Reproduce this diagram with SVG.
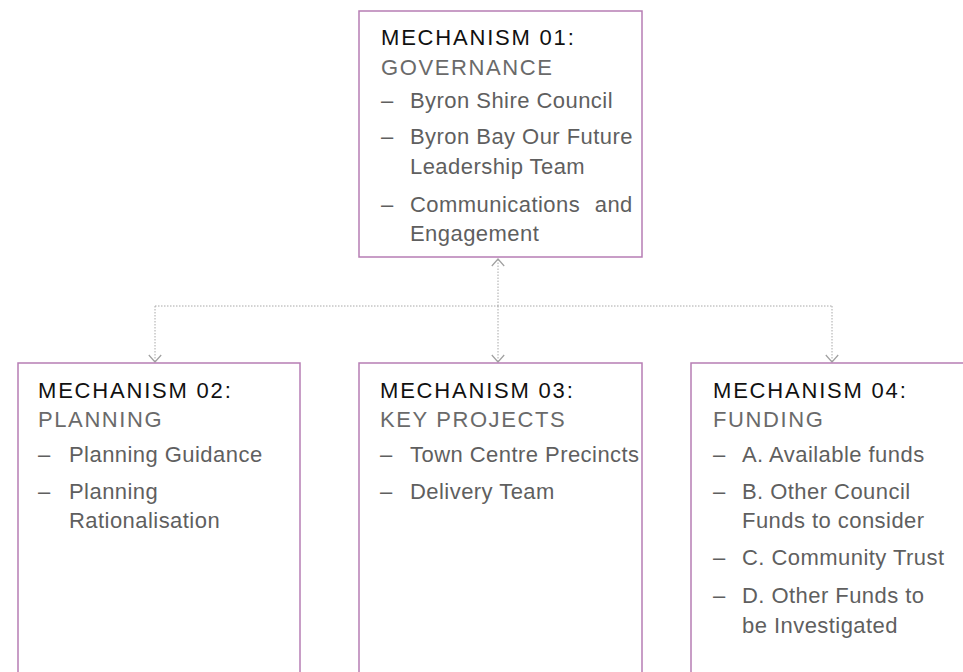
<svg xmlns="http://www.w3.org/2000/svg" width="963" height="672" viewBox="0 0 963 672">
<defs>
<marker id="chev" viewBox="0 0 9 14" refX="8" refY="7" markerWidth="9" markerHeight="14" markerUnits="userSpaceOnUse" orient="auto">
<path d="M1,0.8 L8,7 L1,13.2" fill="none" stroke="#a0a0a0" stroke-width="1.2"/>
</marker>
<style>
.box{fill:#fff;stroke:#b67db4;stroke-width:1.5}
.t{font-family:"Liberation Sans",Arial,sans-serif;font-size:22px;fill:#111;letter-spacing:1.8px}
.s{font-family:"Liberation Sans",Arial,sans-serif;font-size:22px;fill:#6a6a6a;letter-spacing:1.6px}
.b{font-family:"Liberation Sans",Arial,sans-serif;font-size:22px;fill:#5f5f5f;letter-spacing:0.45px}
.con{fill:none;stroke:#a8a8a8;stroke-width:1;stroke-dasharray:1.5 1.5}
</style>
</defs>
<rect width="963" height="672" fill="#fff"/>
<g id="connectors">
<path class="con" d="M498,306 L498,259" marker-end="url(#chev)"/>
<path class="con" d="M155,306 L832,306"/>
<path class="con" d="M155,306 L155,362" marker-end="url(#chev)"/>
<path class="con" d="M498,306 L498,362" marker-end="url(#chev)"/>
<path class="con" d="M832,306 L832,362" marker-end="url(#chev)"/>
</g>
<g id="node1">
<rect class="box" x="359" y="11" width="283" height="246"/>
<text class="t" x="381" y="45">MECHANISM 01:</text>
<text class="s" x="381" y="75">GOVERNANCE</text>
<text class="b" x="381" y="108">–</text><text class="b" x="410" y="108">Byron Shire Council</text>
<text class="b" x="381" y="144">–</text><text class="b" x="410" y="144">Byron Bay Our Future</text>
<text class="b" x="410" y="174">Leadership Team</text>
<text class="b" x="381" y="212">–</text><text class="b" x="410" y="212" word-spacing="8">Communications and</text>
<text class="b" x="410" y="241">Engagement</text>
</g>
<g id="node2">
<rect class="box" x="18" y="363" width="282" height="330"/>
<text class="t" x="38" y="398">MECHANISM 02:</text>
<text class="s" x="38" y="427">PLANNING</text>
<text class="b" x="38" y="462">–</text><text class="b" x="69" y="462">Planning Guidance</text>
<text class="b" x="38" y="499">–</text><text class="b" x="69" y="499">Planning</text>
<text class="b" x="69" y="528">Rationalisation</text>
</g>
<g id="node3">
<rect class="box" x="359" y="363" width="283" height="330"/>
<text class="t" x="380" y="398">MECHANISM 03:</text>
<text class="s" x="380" y="427">KEY PROJECTS</text>
<text class="b" x="380" y="462">–</text><text class="b" x="410" y="462">Town Centre Precincts</text>
<text class="b" x="380" y="499">–</text><text class="b" x="410" y="499">Delivery Team</text>
</g>
<g id="node4">
<rect class="box" x="691" y="363" width="300" height="330"/>
<text class="t" x="713" y="398">MECHANISM 04:</text>
<text class="s" x="713" y="427">FUNDING</text>
<text class="b" x="713" y="462">–</text><text class="b" x="742" y="462">A. Available funds</text>
<text class="b" x="713" y="499">–</text><text class="b" x="742" y="499">B. Other Council</text>
<text class="b" x="742" y="528">Funds to consider</text>
<text class="b" x="713" y="565">–</text><text class="b" x="742" y="565">C. Community Trust</text>
<text class="b" x="713" y="603">–</text><text class="b" x="742" y="603">D. Other Funds to</text>
<text class="b" x="742" y="633">be Investigated</text>
</g>
</svg>
